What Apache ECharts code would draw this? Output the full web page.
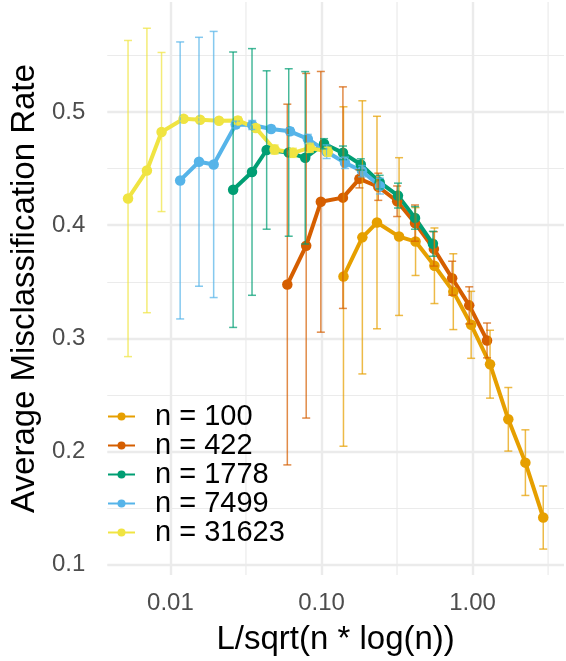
<!DOCTYPE html>
<html>
<head>
<meta charset="utf-8">
<script src="https://cdn.jsdelivr.net/npm/echarts@6/dist/echarts.min.js"></script>
<style>
  html, body { margin: 0; padding: 0; background: #ffffff; }
  #chart { width: 566px; height: 661px; }
</style>
</head>
<body>
<div id="chart"></div>
<script>
// Group labels and colours (one line + error bars per sample size n)
const groupLabels = ['n = 100', 'n = 422', 'n = 1778', 'n = 7499', 'n = 31623'];
const groupColors = ['#E69F00', '#D55E00', '#009E73', '#56B4E9', '#F0E442'];

// x = L / sqrt(n * log(n)) for each group
const x100   = [0.1398, 0.1864, 0.2330, 0.3262, 0.4194, 0.5592, 0.7456, 0.9786, 1.305, 1.724, 2.237, 2.936];
const x422   = [0.05940, 0.07920, 0.09900, 0.1386, 0.1782, 0.2376, 0.3168, 0.4158, 0.5544, 0.7326, 0.9504, 1.247];
const x1778  = [0.02601, 0.03468, 0.04335, 0.06069, 0.07802, 0.1040, 0.1387, 0.1821, 0.2427, 0.3208, 0.4161, 0.5462];
const x7499  = [0.01160, 0.01546, 0.01933, 0.02706, 0.03479, 0.04639, 0.06186, 0.08118, 0.1082, 0.1430, 0.1856, 0.2436];
const x31623 = [0.005241, 0.006988, 0.008735, 0.01223, 0.01572, 0.02096, 0.02795, 0.03669, 0.04891, 0.06464, 0.08385, 0.1101];

// Average misclassification rate
const y100   = [0.3547, 0.3893, 0.4024, 0.3900, 0.3856, 0.3642, 0.3413, 0.3120, 0.2772, 0.2285, 0.1902, 0.1417];
const y422   = [0.3476, 0.3819, 0.4207, 0.4244, 0.4410, 0.4340, 0.4212, 0.4019, 0.3791, 0.3532, 0.3292, 0.2982];
const y1778  = [0.4314, 0.4471, 0.4665, 0.4643, 0.4596, 0.4720, 0.4640, 0.4537, 0.4381, 0.4262, 0.4065, 0.3836];
const y7499  = [0.4396, 0.4561, 0.4537, 0.4890, 0.4886, 0.4851, 0.4830, 0.4763, 0.4650, 0.4552, 0.4478, 0.4346];
const y31623 = [0.4236, 0.4484, 0.4824, 0.4941, 0.4932, 0.4924, 0.4926, 0.4860, 0.4669, 0.4640, 0.4684, 0.4650];

// Standard deviation (error bar half-length)
const sd100   = [0.1500, 0.1207, 0.0939, 0.0697, 0.0300, 0.0334, 0.0335, 0.0296, 0.0300, 0.0281, 0.0290, 0.0279];
const sd422   = [0.1594, 0.1523, 0.1152, 0.0979, 0.0080, 0.0120, 0.0135, 0.0160, 0.0152, 0.0150, 0.0164, 0.0154];
const sd1778  = [0.1217, 0.1090, 0.0700, 0.0740, 0.0762, 0.0045, 0.0060, 0.0050, 0.0060, 0.0110, 0.0100, 0.0110];
const sd7499  = [0.1224, 0.1100, 0.1176, 0.0030, 0.0040, 0.0030, 0.0030, 0.0040, 0.0060, 0.0050, 0.0050, 0.0070];
const sd31623 = [0.1397, 0.1257, 0.0703, 0.0020, 0.0020, 0.0020, 0.0030, 0.0030, 0.0040, 0.0040, 0.0040, 0.0040];

// Axis ticks
const xTickValues = [0.01, 0.1, 1];
const xTickLabels = ['0.01', '0.10', '1.00'];
const xMinorGrid = [0.03162, 0.3162, 3.162];

const groupsX = [x100, x422, x1778, x7499, x31623];
const groupsY = [y100, y422, y1778, y7499, y31623];
const groupsSd = [sd100, sd422, sd1778, sd7499, sd31623];

const GRID_COLOR = '#EBEBEB';
const FONT = '"Liberation Sans", Arial, Helvetica, sans-serif';

const series = [];

// Thin half-decade grid lines on the log x axis
series.push({
  type: 'custom',
  name: 'minor-x-grid',
  silent: true,
  z: 1,
  clip: true,
  data: xMinorGrid.map(v => [v, 0.3]),
  renderItem: function (params, api) {
    const p = api.coord([api.value(0), api.value(1)]);
    const cs = params.coordSys;
    return {
      type: 'line',
      shape: { x1: p[0], y1: cs.y, x2: p[0], y2: cs.y + cs.height },
      style: { stroke: GRID_COLOR, lineWidth: 1.2 }
    };
  }
});

groupLabels.forEach((label, g) => {
  const xs = groupsX[g], ys = groupsY[g];
  series.push({
    type: 'line',
    name: label,
    data: xs.map((x, i) => [x, ys[i]]),
    symbol: 'circle',
    symbolSize: 10.5,
    showSymbol: true,
    lineStyle: { color: groupColors[g], width: 4 },
    itemStyle: { color: groupColors[g] },
    z: 3,
    animation: false
  });
});

groupLabels.forEach((label, g) => {
  const xs = groupsX[g], ys = groupsY[g], sds = groupsSd[g];
  series.push({
    type: 'custom',
    name: label + ' sd',
    silent: true,
    z: 4,
    data: xs.map((x, i) => [x, ys[i] - sds[i], ys[i] + sds[i]]),
    renderItem: function (params, api) {
      const lo = api.coord([api.value(0), api.value(1)]);
      const hi = api.coord([api.value(0), api.value(2)]);
      const hw = 4;
      const st = { stroke: groupColors[g], lineWidth: 1.5, opacity: 0.72 };
      return {
        type: 'group',
        children: [
          { type: 'line', shape: { x1: lo[0], y1: lo[1], x2: hi[0], y2: hi[1] }, style: st },
          { type: 'line', shape: { x1: lo[0] - hw, y1: lo[1], x2: lo[0] + hw, y2: lo[1] }, style: st },
          { type: 'line', shape: { x1: hi[0] - hw, y1: hi[1], x2: hi[0] + hw, y2: hi[1] }, style: st }
        ]
      };
    },
    animation: false
  });
});

const chart = echarts.init(document.getElementById('chart'), null, { renderer: 'canvas' });
chart.setOption({
  backgroundColor: '#ffffff',
  animation: false,
  textStyle: { fontFamily: FONT },
  grid: { left: 105, right: 2, top: 2, bottom: 83, containLabel: false },
  xAxis: {
    type: 'log',
    logBase: 10,
    min: 0.003819,
    max: 4.029,
    name: 'L/sqrt(n * log(n))',
    nameLocation: 'middle',
    nameGap: 48,
    nameTextStyle: { fontSize: 33, color: '#000000', fontFamily: FONT },
    axisLine: { show: false },
    axisTick: { show: false },
    axisLabel: {
      fontSize: 24,
      color: '#4D4D4D',
      margin: 16,
      fontFamily: FONT,
      showMinLabel: false,
      showMaxLabel: false,
      formatter: function (v) {
        const lg = Math.log10(v);
        for (let i = 0; i < xTickValues.length; i++) {
          if (Math.abs(lg - Math.log10(xTickValues[i])) < 1e-6) return xTickLabels[i];
        }
        return '';
      }
    },
    splitLine: { show: true, showMinLine: false, showMaxLine: false, lineStyle: { color: GRID_COLOR, width: 2.4 } }
  },
  yAxis: {
    type: 'value',
    min: 0.0909,
    max: 0.5973,
    splitNumber: 5,
    name: 'Average Misclassification Rate',
    nameLocation: 'middle',
    nameGap: 62,
    nameTextStyle: { fontSize: 33, color: '#000000', fontFamily: FONT },
    axisLine: { show: false },
    axisTick: { show: false },
    axisLabel: {
      fontSize: 24,
      color: '#4D4D4D',
      margin: 22,
      fontFamily: FONT,
      showMinLabel: false,
      showMaxLabel: false
    },
    splitLine: { show: true, showMinLine: false, showMaxLine: false, lineStyle: { color: GRID_COLOR, width: 2.4 } },
    minorTick: { show: false, splitNumber: 2 },
    minorSplitLine: { show: true, lineStyle: { color: GRID_COLOR, width: 1.2 } }
  },
  legend: {
    data: groupLabels,
    orient: 'vertical',
    left: 107,
    top: 402,
    padding: 0,
    itemWidth: 27,
    itemHeight: 10,
    itemGap: 0,
    textStyle: { fontSize: 29, color: '#000000', fontFamily: FONT, lineHeight: 27.5, padding: [0, 0, 0, 15] },
    selectedMode: false
  },
  series: series
});
</script>
</body>
</html>
